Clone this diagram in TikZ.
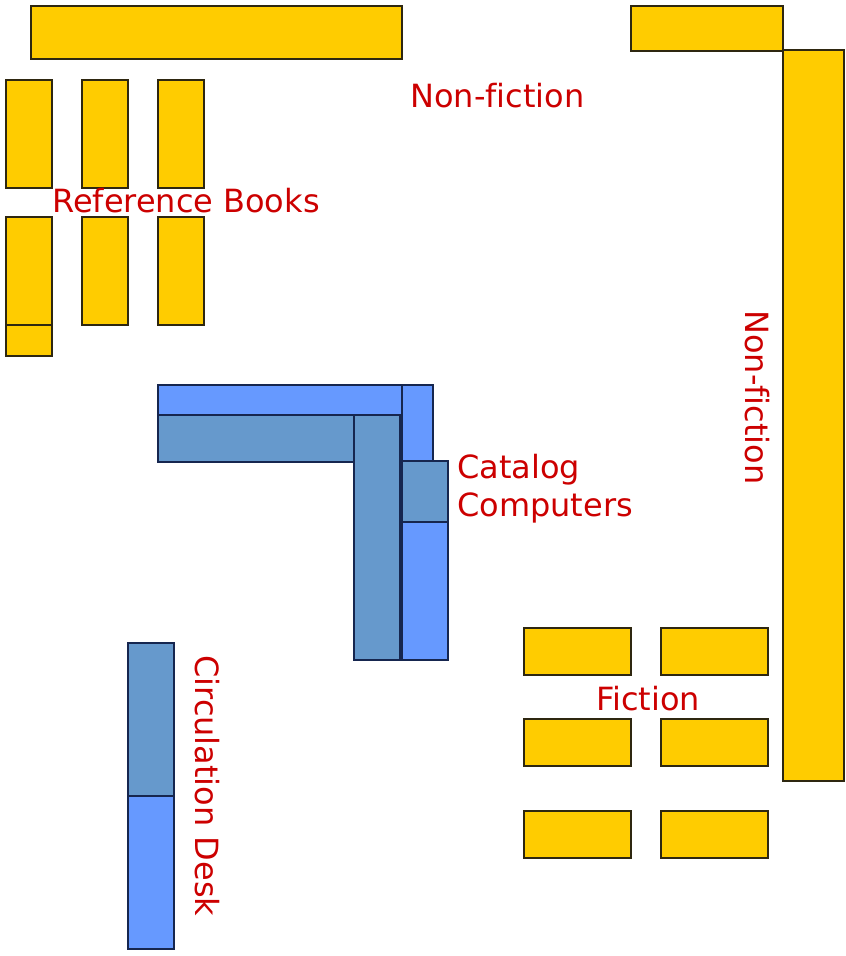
\documentclass[tikz,border=0pt]{standalone}
\usepackage{fontspec}
\setmainfont[Ligatures=NoCommon]{DejaVu Sans}
\definecolor{shelfyellow}{HTML}{FFCC00}
\definecolor{deskblue}{HTML}{6699FF}
\definecolor{deskshade}{HTML}{6699CC}
\definecolor{labelred}{HTML}{CC0000}
\definecolor{shelfedge}{HTML}{2E2710}
\definecolor{deskedge}{HTML}{16264F}
\tikzset{
    shelf/.style={draw=shelfedge, line width=1.5pt, fill=shelfyellow},
    desk/.style={draw=deskedge, line width=1.5pt, fill=deskblue},
    deskdark/.style={draw=deskedge, line width=1.5pt, fill=deskshade},
    sign/.style={text=labelred, font=\fontsize{18.2}{22}\selectfont, inner sep=0pt, align=left}
}
\begin{document}
\begin{tikzpicture}[x=0.02cm, y=-0.02cm]
\useasboundingbox (0,0) rectangle (845,956);

% Shelves along the top and right
\draw[shelf] (31,6) rectangle (402,59);
\draw[shelf] (631,6) rectangle (783,51);
\draw[shelf] (783,50) rectangle (844,781);

% Reference shelves
\foreach \x in {6,82,158} {
    \draw[shelf] (\x,80) rectangle (\x+46,188);
    \draw[shelf] (\x,217) rectangle (\x+46,325);
}
\draw[shelf] (6,325) rectangle (52,356);

% Fiction shelves
\foreach \y in {628,719,811} {
    \draw[shelf] (524,\y) rectangle (631,\y+47);
    \draw[shelf] (661,\y) rectangle (768,\y+47);
}

% Catalog desks
\draw[desk] (402,385) rectangle (433,461);
\draw[desk] (158,385) rectangle (402,415);
\draw[deskdark] (158,415) rectangle (354,462);
\draw[deskdark] (354,415) rectangle (400,660);
\draw[desk] (402,522) rectangle (448,660);
\draw[deskdark] (402,461) rectangle (448,522);

% Circulation desk
\draw[desk] (128,796) rectangle (174,949);
\draw[deskdark] (128,643) rectangle (174,796);

% Labels
\node[sign, anchor=base west] (nonfictiontop) at (410,108) {Non-fiction};
\node[sign, anchor=base west] (reference) at (52,213) {Reference Books};
\node[sign, anchor=base west] (catalog) at (457,478) {Catalog};
\node[sign, anchor=base west] (computers) at (457,516) {Computers};
\node[sign, anchor=base west] (fiction) at (596,710) {Fiction};
\node[sign, anchor=base west, rotate=-90] (nonfictionside) at (745,310) {Non-fiction};
\node[sign, anchor=base west, rotate=-90] (circulation) at (195,655) {Circulation Desk};

\end{tikzpicture}
\end{document}
